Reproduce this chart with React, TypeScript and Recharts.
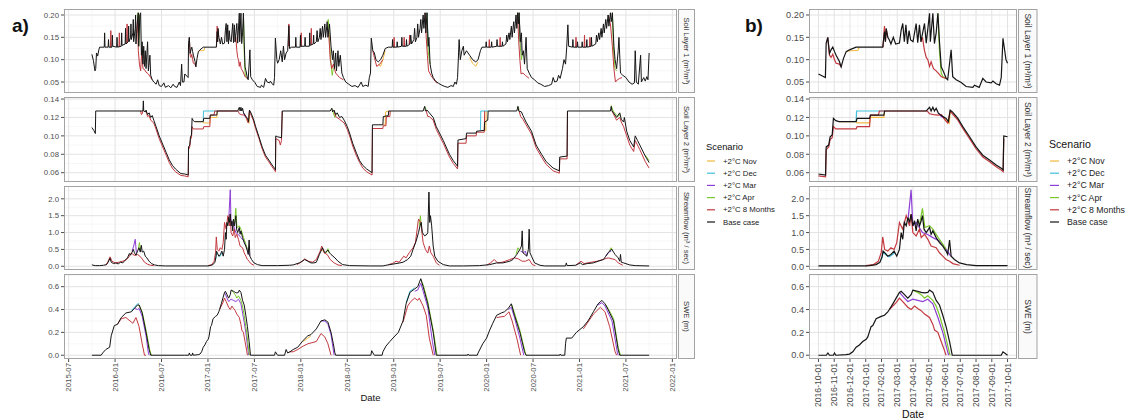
import { LineChart, Line, XAxis, YAxis, CartesianGrid } from "recharts";

// time axis: months since 2015-10-01 (start of water year 2016)
type Pt = [number, number] | null;

const SCENARIOS = ["+2°C Nov", "+2°C Dec", "+2°C Mar", "+2°C Apr", "+2°C 8 Months", "Base case"];
const COLORS = ["#F4B942", "#41C0DD", "#8F3FD6", "#7BC72D", "#C3393F", "#151515"];

const A_TICKS = [-3, 3, 9, 15, 21, 27, 33, 39, 45, 51, 57, 63, 69, 75];
const A_LABELS = ["2015-07", "2016-01", "2016-07", "2017-01", "2017-07", "2018-01", "2018-07",
  "2019-01", "2019-07", "2020-01", "2020-07", "2021-01", "2021-07", "2022-01"];
const A_MINOR = [0, 6, 12, 18, 24, 30, 36, 42, 48, 54, 60, 66, 72];
const B_TICKS = [12, 13, 14, 15, 16, 17, 18, 19, 20, 21, 22, 23, 24];
const B_LABELS = ["2016-10-01", "2016-11-01", "2016-12-01", "2017-01-01", "2017-02-01", "2017-03-01",
  "2017-04-01", "2017-05-01", "2017-06-01", "2017-07-01", "2017-08-01", "2017-09-01", "2017-10-01"];
const B_MINOR = [12.5, 13.5, 14.5, 15.5, 16.5, 17.5, 18.5, 19.5, 20.5, 21.5, 22.5, 23.5];

// ---------- Soil layer 1 ----------
const soil1Base: Pt[] = [
  [0, 0.112], [0.2, 0.098], [0.4, 0.075], [0.5, 0.08], [0.6, 0.115], [0.75, 0.108], [0.9, 0.122], [1.0, 0.128],
  [1.6, 0.128], [1.65, 0.16], [1.7, 0.128], [2.1, 0.128], [2.15, 0.145], [2.2, 0.128], [2.6, 0.128], [2.65, 0.155], [2.7, 0.13],
  [3.2, 0.128], [3.25, 0.15], [3.3, 0.128], [3.8, 0.13], [3.85, 0.16], [3.9, 0.132], [4.3, 0.135], [4.35, 0.17], [4.4, 0.135],
  [4.7, 0.14], [4.75, 0.175], [4.8, 0.14], [5.0, 0.15], [5.05, 0.18], [5.1, 0.145], [5.3, 0.16], [5.35, 0.19], [5.4, 0.14],
  [5.6, 0.17], [5.65, 0.2], [5.7, 0.135], [5.9, 0.19], [6.0, 0.205], [6.05, 0.13], [6.2, 0.2], [6.3, 0.205], [6.4, 0.11],
  [6.5, 0.14], [6.6, 0.09], [6.7, 0.13], [6.8, 0.085], [6.9, 0.12], [7.0, 0.08], [7.2, 0.14], [7.3, 0.075], [7.5, 0.11],
  [7.6, 0.065], [7.8, 0.055], [8.0, 0.05], [8.3, 0.045], [8.5, 0.055], [8.7, 0.042], [9.0, 0.04], [9.3, 0.048], [9.5, 0.038],
  [9.9, 0.042], [10.2, 0.037], [10.5, 0.045], [10.7, 0.04], [11.0, 0.038], [11.3, 0.05], [11.45, 0.042], [11.6, 0.09],
  [11.7, 0.05], [11.9, 0.05],
  [12.0, 0.068], [12.28, 0.063], [12.44, 0.06], [12.49, 0.137], [12.59, 0.15], [12.7, 0.114], [12.8, 0.122], [12.91, 0.128],
  [13.02, 0.118], [13.12, 0.11], [13.33, 0.096], [13.44, 0.084], [13.59, 0.103], [13.76, 0.118], [13.97, 0.122], [14.39, 0.128],
  [16.08, 0.128], [16.19, 0.163], [16.25, 0.14], [16.3, 0.17], [16.4, 0.15], [16.5, 0.144], [16.6, 0.135], [16.75, 0.15],
  [16.9, 0.135], [17.14, 0.137], [17.25, 0.166], [17.35, 0.181], [17.45, 0.14], [17.55, 0.178], [17.65, 0.135], [17.75, 0.165],
  [17.85, 0.144], [18.0, 0.14], [18.2, 0.181], [18.3, 0.138], [18.41, 0.178], [18.5, 0.14], [18.73, 0.181], [18.84, 0.137],
  [19.05, 0.204], [19.1, 0.14], [19.26, 0.204], [19.36, 0.136], [19.47, 0.16], [19.58, 0.204], [19.68, 0.14], [19.79, 0.084],
  [19.9, 0.076], [20.11, 0.058], [20.2, 0.055], [20.42, 0.122], [20.52, 0.062], [20.74, 0.055], [21.06, 0.049], [21.37, 0.04],
  [21.8, 0.038], [21.9, 0.043], [22.2, 0.038], [22.43, 0.058], [22.64, 0.05], [22.96, 0.048], [23.07, 0.052], [23.28, 0.046],
  [23.49, 0.043], [23.6, 0.06], [23.71, 0.148], [23.9, 0.1], [24.0, 0.092],
  [24.2, 0.1], [24.4, 0.12], [24.6, 0.095], [24.75, 0.13], [24.9, 0.1], [25.1, 0.115], [25.3, 0.12], [25.45, 0.176], [25.55, 0.125],
  [25.8, 0.128], [26.3, 0.128], [26.35, 0.15], [26.4, 0.128], [26.9, 0.128], [26.95, 0.155], [27.0, 0.13], [27.5, 0.13],
  [27.55, 0.15], [27.6, 0.13], [28.1, 0.13], [28.15, 0.16], [28.2, 0.132], [28.6, 0.135], [28.65, 0.155], [28.7, 0.135],
  [29.0, 0.14], [29.1, 0.165], [29.2, 0.14], [29.4, 0.15], [29.5, 0.17], [29.6, 0.145], [29.8, 0.175], [29.9, 0.15],
  [30.1, 0.18], [30.2, 0.15], [30.4, 0.185], [30.5, 0.15], [30.7, 0.18], [30.9, 0.13], [31.1, 0.1], [31.2, 0.12],
  [31.35, 0.08], [31.5, 0.115], [31.6, 0.075], [31.8, 0.12], [31.9, 0.085], [32.1, 0.11], [32.3, 0.07], [32.5, 0.06],
  [32.8, 0.05], [33.2, 0.045], [33.6, 0.04], [34.0, 0.042], [34.4, 0.038], [34.8, 0.05], [35.0, 0.04], [35.4, 0.043],
  [35.7, 0.04], [35.85, 0.06],
  [36.0, 0.07], [36.1, 0.148], [36.3, 0.12], [36.5, 0.115], [36.7, 0.1], [37.0, 0.095], [37.3, 0.1], [37.6, 0.11], [37.9, 0.125],
  [38.3, 0.128], [38.8, 0.128], [38.85, 0.145], [38.9, 0.128], [39.4, 0.128], [39.45, 0.14], [39.5, 0.128], [40.0, 0.13],
  [40.05, 0.15], [40.1, 0.13], [40.6, 0.13], [40.65, 0.145], [40.7, 0.13], [41.1, 0.135], [41.2, 0.155], [41.3, 0.135],
  [41.6, 0.145], [41.7, 0.17], [41.8, 0.14], [42.0, 0.15], [42.1, 0.18], [42.2, 0.15], [42.4, 0.17], [42.5, 0.19], [42.6, 0.16],
  [42.8, 0.2], [42.9, 0.17], [43.05, 0.205], [43.15, 0.16], [43.3, 0.205], [43.45, 0.13], [43.55, 0.15], [43.7, 0.09],
  [43.9, 0.07], [44.1, 0.06], [44.4, 0.052], [44.8, 0.047], [45.2, 0.043], [45.6, 0.04], [46.0, 0.038], [46.4, 0.042],
  [46.7, 0.04], [46.9, 0.05], [47.1, 0.045], [47.25, 0.06], [47.45, 0.145], [47.6, 0.1], [47.8, 0.12], [48.0, 0.13],
  [48.1, 0.11], [48.4, 0.12], [48.8, 0.11], [49.2, 0.1], [49.6, 0.095], [49.9, 0.1], [50.2, 0.12], [50.4, 0.128],
  [50.9, 0.128], [50.95, 0.14], [51.0, 0.128], [51.6, 0.128], [51.65, 0.14], [51.7, 0.128], [52.3, 0.13], [52.35, 0.145],
  [52.4, 0.13], [53.0, 0.13], [53.05, 0.14], [53.1, 0.13], [53.5, 0.135], [53.6, 0.155], [53.7, 0.14], [53.9, 0.16],
  [54.0, 0.145], [54.2, 0.175], [54.3, 0.15], [54.5, 0.185], [54.6, 0.16], [54.8, 0.2], [54.9, 0.17], [55.0, 0.205],
  [55.1, 0.18], [55.2, 0.205], [55.35, 0.14], [55.5, 0.16], [55.6, 0.11], [55.75, 0.12], [55.9, 0.09], [56.1, 0.15],
  [56.25, 0.08], [56.5, 0.07], [56.8, 0.06], [57.2, 0.055], [57.6, 0.048], [58.0, 0.045], [58.5, 0.04], [59.0, 0.042],
  [59.4, 0.045], [59.6, 0.06], [59.8, 0.05], [60.1, 0.052], [60.3, 0.065], [60.5, 0.058], [60.8, 0.08], [61.0, 0.1],
  [61.2, 0.09], [61.35, 0.128], [61.5, 0.178], [61.6, 0.13],
  [62.1, 0.128], [62.15, 0.145], [62.2, 0.128], [62.7, 0.128], [62.75, 0.14], [62.8, 0.128], [63.3, 0.128], [63.35, 0.14],
  [63.4, 0.128], [63.9, 0.128], [63.95, 0.145], [64.0, 0.128], [64.5, 0.13], [64.55, 0.15], [64.6, 0.13], [65.1, 0.135],
  [65.2, 0.155], [65.3, 0.14], [65.5, 0.16], [65.6, 0.145], [65.8, 0.17], [65.9, 0.15], [66.1, 0.18], [66.2, 0.16],
  [66.4, 0.19], [66.5, 0.17], [66.7, 0.2], [66.8, 0.175], [67.0, 0.205], [67.1, 0.185], [67.25, 0.205], [67.45, 0.13],
  [67.6, 0.1], [67.8, 0.08], [68.0, 0.12], [68.1, 0.15], [68.3, 0.07], [68.6, 0.065], [69.0, 0.06], [69.4, 0.05],
  [69.8, 0.045], [70.1, 0.048], [70.2, 0.12], [70.35, 0.05], [70.6, 0.045], [70.9, 0.11], [71.0, 0.05], [71.3, 0.06],
  [71.5, 0.052], [71.7, 0.062], [71.85, 0.055], [72.0, 0.115],
];
const soil1Eight: Pt[] = [
  [2.4, 0.128], [2.45, 0.165], [2.5, 0.128], null,
  [3.5, 0.128], [3.55, 0.16], [3.6, 0.13], null,
  [4.5, 0.137], [4.55, 0.18], [4.6, 0.137], null,
  [5.8, 0.16], [5.9, 0.19], [6.0, 0.12], [6.15, 0.09], [6.3, 0.075], [6.45, 0.12], [6.6, 0.08], [6.8, 0.078], [7.0, 0.072],
  [7.3, 0.068], [7.6, 0.06], [7.8, 0.055], null,
  [12.59, 0.15], [12.7, 0.11], [12.8, 0.105], [12.91, 0.112], [13.02, 0.1], [13.12, 0.092], [13.33, 0.09], [13.44, 0.084], null,
  [16.1, 0.128], [16.19, 0.175], [16.25, 0.14], [16.3, 0.168], [16.4, 0.15], null,
  [18.5, 0.14], [18.6, 0.15], [18.73, 0.12], [18.84, 0.105], [18.94, 0.1], [19.05, 0.085], [19.15, 0.095], [19.3, 0.08],
  [19.47, 0.075], [19.6, 0.07], [19.79, 0.062], [19.9, 0.06], [20.11, 0.058], null,
  [25.4, 0.13], [25.45, 0.18], [25.55, 0.125], null,
  [27.0, 0.13], [27.05, 0.16], [27.1, 0.13], null,
  [28.3, 0.133], [28.35, 0.17], [28.4, 0.133], null,
  [30.4, 0.17], [30.6, 0.16], [30.8, 0.1], [31.0, 0.08], [31.2, 0.09], [31.5, 0.07], [32.0, 0.06], [32.5, 0.055], null,
  [36.3, 0.12], [36.5, 0.105], [36.8, 0.085], [37.2, 0.09], [37.6, 0.1], null,
  [39.0, 0.128], [39.05, 0.15], [39.1, 0.128], null,
  [40.3, 0.13], [40.35, 0.15], [40.4, 0.13], null,
  [41.0, 0.135], [41.05, 0.155], [41.1, 0.135], null,
  [43.05, 0.205], [43.2, 0.15], [43.35, 0.11], [43.5, 0.075], [43.8, 0.065], [44.2, 0.055], [44.6, 0.047], null,
  [51.3, 0.128], [51.35, 0.145], [51.4, 0.128], null,
  [52.7, 0.13], [52.75, 0.15], [52.8, 0.13], null,
  [55.0, 0.205], [55.15, 0.14], [55.3, 0.1], [55.45, 0.068], [55.7, 0.07], [56.0, 0.065], [56.5, 0.058], null,
  [62.5, 0.128], [62.55, 0.15], [62.6, 0.128], null,
  [63.6, 0.128], [63.65, 0.155], [63.7, 0.128], null,
  [64.3, 0.13], [64.35, 0.15], [64.4, 0.13], null,
  [66.7, 0.2], [67.0, 0.18], [67.25, 0.13], [67.45, 0.08], [67.65, 0.05], [67.9, 0.055], [68.2, 0.058], [68.5, 0.06],
];
const soil1Nov: Pt[] = [
  [13.76, 0.118], [13.97, 0.12], [14.2, 0.12], [14.5, 0.121], [14.6, 0.128], null,
  [37.0, 0.09], [37.3, 0.085], [37.6, 0.1], [37.9, 0.12], null,
  [48.8, 0.105], [49.2, 0.092], [49.6, 0.085], [49.9, 0.095],
];
const soil1Dec: Pt[] = [[43.3, 0.205], [43.45, 0.14], [43.6, 0.12]];
const soil1Mar: Pt[] = [[55.2, 0.205], [55.3, 0.16], [55.45, 0.12]];
const soil1Apr: Pt[] = [
  [5.9, 0.19], [5.95, 0.205], [6.05, 0.13], [6.2, 0.2], null,
  [19.58, 0.204], [19.68, 0.12], [19.79, 0.07], [19.9, 0.062], [20.0, 0.06], [20.11, 0.058], null,
  [30.4, 0.185], [30.55, 0.19], [30.7, 0.14], [30.9, 0.09], [31.05, 0.065], [31.2, 0.08], [31.35, 0.08], null,
  [43.3, 0.205], [43.45, 0.12], [43.6, 0.1], [43.7, 0.09], null,
  [55.2, 0.205], [55.35, 0.13], [55.5, 0.1], [55.6, 0.11], null,
  [67.25, 0.205], [67.4, 0.12], [67.6, 0.08], [67.8, 0.075],
];

// ---------- Soil layer 2 ----------
const soil2Base: Pt[] = [
  [0, 0.109], [0.25, 0.106], [0.45, 0.1025], [0.5, 0.127], [6.6, 0.127], [6.65, 0.138], [6.7, 0.127], [6.9, 0.126],
  [7.0, 0.128], [7.2, 0.123], [7.4, 0.125], [7.6, 0.12], [7.8, 0.122], [8.0, 0.117], [8.3, 0.11], [8.7, 0.1], [9.2, 0.09],
  [9.6, 0.082], [10.0, 0.074], [10.4, 0.068], [10.8, 0.064], [11.5, 0.059],
  [12.0, 0.0586], [12.45, 0.0575], [12.49, 0.088], [12.65, 0.09], [12.74, 0.099], [12.87, 0.101], [12.95, 0.119],
  [13.1, 0.1165], [13.3, 0.1154], [14.39, 0.1154], [14.45, 0.119], [15.24, 0.119], [15.3, 0.1226], [16.15, 0.1226],
  [16.2, 0.127], [18.84, 0.127], [19.05, 0.131], [19.15, 0.127], [19.26, 0.131], [19.36, 0.127], [19.47, 0.13], [19.6, 0.125],
  [19.8, 0.122], [20.1, 0.119], [20.25, 0.1155], [20.36, 0.128], [20.5, 0.126], [20.85, 0.119], [21.16, 0.11], [21.59, 0.099],
  [22.0, 0.088], [22.43, 0.079], [22.86, 0.0738], [23.28, 0.0684], [23.6, 0.0648], [23.72, 0.063], [23.76, 0.0999], [24.0, 0.099],
  [24.5, 0.098], [24.6, 0.127], [30.8, 0.127], [31.0, 0.13], [31.1, 0.126], [31.3, 0.128], [31.5, 0.123], [31.7, 0.125],
  [32.0, 0.12], [32.3, 0.121], [32.6, 0.117], [33.0, 0.11], [33.3, 0.103], [33.7, 0.092], [34.2, 0.081], [34.6, 0.073],
  [35.0, 0.068], [35.5, 0.064], [36.2, 0.06], [36.25, 0.112], [37.6, 0.112], [37.65, 0.121], [38.3, 0.122], [38.35, 0.127],
  [42.8, 0.127], [43.0, 0.132], [43.1, 0.127], [43.3, 0.128], [43.6, 0.125], [44.1, 0.12], [44.5, 0.11], [45.4, 0.095],
  [46.2, 0.08], [46.7, 0.073], [47.25, 0.067], [47.3, 0.0955], [48.35, 0.097], [48.4, 0.103], [49.65, 0.103], [49.7, 0.105],
  [50.7, 0.106], [50.75, 0.115], [51.15, 0.117], [51.2, 0.127], [54.9, 0.127], [55.05, 0.132], [55.15, 0.127], [55.5, 0.126],
  [55.7, 0.122], [56.1, 0.115], [56.8, 0.105], [57.4, 0.09], [58.1, 0.08], [58.7, 0.072], [59.6, 0.065], [60.4, 0.062],
  [60.45, 0.077], [61.4, 0.078], [61.45, 0.127], [67.0, 0.127], [67.1, 0.132], [67.2, 0.127], [67.4, 0.125], [67.8, 0.12],
  [68.2, 0.125], [68.4, 0.118], [68.7, 0.115], [68.8, 0.12], [69.1, 0.105], [69.5, 0.095], [70.0, 0.088], [70.2, 0.1],
  [70.5, 0.095], [70.8, 0.09], [71.5, 0.078], [72.0, 0.071],
];
const soil2Eight: Pt[] = [
  [6.3, 0.127], [6.4, 0.123], [6.5, 0.124], [6.6, 0.127], null,
  [7.0, 0.127], [7.2, 0.121], [7.4, 0.122], [7.6, 0.117], [8.0, 0.114], [8.3, 0.107], [8.7, 0.097], [9.2, 0.087], [9.6, 0.079],
  [10.0, 0.071], [10.4, 0.065], [10.8, 0.061], [11.5, 0.057], [12.0, 0.0565], [12.45, 0.0555], [12.49, 0.085], [12.65, 0.088],
  [12.74, 0.096], [12.87, 0.098], [12.95, 0.11], [13.1, 0.1075], [14.39, 0.1075], [14.45, 0.11], [15.24, 0.11], [15.3, 0.1226],
  [15.8, 0.1226], [15.87, 0.127], [18.9, 0.127], [19.05, 0.124], [19.3, 0.123], [19.6, 0.1226], [19.8, 0.123], [20.0, 0.118],
  [20.2, 0.114], [20.36, 0.127], [20.5, 0.124], [20.85, 0.117], [21.16, 0.108], [21.59, 0.097], [22.0, 0.086], [22.43, 0.077],
  [22.86, 0.0718], [23.28, 0.0664], [23.6, 0.0628], [23.72, 0.061], [23.76, 0.097], [24.2, 0.095], [24.35, 0.09], [24.5, 0.095],
  [24.6, 0.127], null,
  [31.3, 0.127], [31.5, 0.121], [32.0, 0.118], [32.6, 0.114], [33.0, 0.107], [33.3, 0.1], [33.7, 0.089], [34.2, 0.078],
  [34.6, 0.071], [35.0, 0.065], [35.5, 0.061], [36.2, 0.0575], [36.25, 0.108], [37.6, 0.108], [37.65, 0.111], [38.0, 0.111],
  [38.05, 0.121], [38.5, 0.121], [38.55, 0.127], null,
  [43.2, 0.127], [43.4, 0.121], [43.6, 0.121], [44.1, 0.117], [44.5, 0.107], [45.4, 0.092], [46.2, 0.077], [46.7, 0.07],
  [47.25, 0.064], [47.3, 0.092], [48.35, 0.092], [48.4, 0.1], [49.65, 0.1], [49.7, 0.104], [50.7, 0.104], [50.75, 0.127], null,
  [55.2, 0.127], [55.4, 0.121], [55.7, 0.118], [56.1, 0.112], [56.8, 0.102], [57.4, 0.087], [58.1, 0.077], [58.7, 0.069],
  [59.6, 0.062], [60.4, 0.0595], [60.45, 0.075], [61.4, 0.075], [61.45, 0.127], null,
  [67.2, 0.127], [67.5, 0.122], [67.8, 0.117], [68.2, 0.12], [68.4, 0.115], [68.7, 0.11], [69.1, 0.1], [69.5, 0.09],
  [70.0, 0.083], [70.2, 0.095], [70.5, 0.09], [70.8, 0.085], [71.5, 0.072], [72.0, 0.065],
];
const soil2Nov: Pt[] = [
  [13.3, 0.1154], [14.39, 0.1154], [14.45, 0.114], [15.24, 0.114], [15.3, 0.12], [16.15, 0.12], [16.2, 0.127], null,
  [20.0, 0.119], [20.1, 0.116], [20.3, 0.1136], [20.36, 0.127], null,
  [37.6, 0.112], [37.9, 0.112], [37.95, 0.126], [38.35, 0.127], null,
  [50.7, 0.106], [50.9, 0.106], [50.95, 0.127],
];
const soil2Dec: Pt[] = [
  [14.39, 0.1154], [14.42, 0.127], [16.2, 0.127], null,
  [50.2, 0.106], [50.25, 0.127], [51.2, 0.127],
];
const soil2Mar: Pt[] = [[19.6, 0.125], [19.8, 0.121], [20.0, 0.119]];
const soil2Apr: Pt[] = [
  [31.0, 0.13], [31.2, 0.125], [31.4, 0.12], [31.6, 0.124], null,
  [43.0, 0.132], [43.2, 0.128], null,
  [55.05, 0.132], [55.2, 0.128], null,
  [67.1, 0.133], [67.3, 0.128], [67.6, 0.124], [68.0, 0.121], [68.3, 0.124], null,
  [71.5, 0.079], [72.0, 0.073],
];

// ---------- Streamflow ----------
const flowBase: Pt[] = [
  [0, 0.05], [0.15, 0.03], [0.5, 0.02], [1.0, 0.02], [1.5, 0.03], [1.9, 0.05], [2.1, 0.12], [2.35, 0.24], [2.5, 0.12],
  [2.8, 0.08], [3.1, 0.1], [3.4, 0.07], [3.7, 0.12], [4.0, 0.1], [4.3, 0.18], [4.6, 0.25], [4.85, 0.38], [5.0, 0.33],
  [5.2, 0.42], [5.35, 0.5], [5.5, 0.4], [5.7, 0.33], [5.9, 0.45], [6.1, 0.55], [6.25, 0.42], [6.4, 0.62], [6.5, 0.42],
  [6.7, 0.45], [6.9, 0.3], [7.1, 0.25], [7.4, 0.15], [7.7, 0.08], [8.1, 0.04], [8.6, 0.02], [9.5, 0.01], [12.0, 0.01],
  [15.0, 0.01], [15.24, 0.02], [15.66, 0.05], [15.9, 0.12], [16.05, 0.3], [16.1, 0.45], [16.25, 0.38], [16.4, 0.3],
  [16.6, 0.35], [16.8, 0.45], [16.97, 0.3], [17.14, 0.5], [17.25, 1.0], [17.35, 0.8], [17.45, 1.3], [17.57, 1.2],
  [17.68, 1.45], [17.78, 1.3], [17.88, 1.55], [17.99, 1.2], [18.1, 1.35], [18.2, 1.05], [18.3, 1.4], [18.41, 1.2],
  [18.52, 1.35], [18.6, 1.5], [18.7, 1.1], [18.84, 1.0], [19.05, 1.15], [19.15, 0.95], [19.26, 1.05], [19.47, 0.85],
  [19.68, 0.7], [19.89, 0.6], [20.1, 0.45], [20.2, 0.35], [20.32, 0.78], [20.42, 0.3], [20.63, 0.2], [20.95, 0.1],
  [21.4, 0.05], [22.0, 0.02], [24.0, 0.02],
  [25.5, 0.03], [26.0, 0.04], [26.8, 0.1], [27.2, 0.15], [27.5, 0.2], [27.9, 0.15], [28.3, 0.1], [28.7, 0.1], [29.0, 0.12],
  [29.4, 0.35], [29.8, 0.55], [30.1, 0.4], [30.5, 0.48], [30.7, 0.4], [30.9, 0.35], [31.4, 0.25], [31.8, 0.15], [32.4, 0.05],
  [33.3, 0.02], [36.0, 0.01],
  [37.6, 0.01], [38.0, 0.03], [38.5, 0.05], [39.3, 0.08], [39.8, 0.1], [40.2, 0.12], [40.8, 0.2], [41.2, 0.3], [41.5, 0.5],
  [41.9, 0.75], [42.2, 1.0], [42.4, 1.2], [42.55, 1.3], [42.7, 1.0], [43.0, 0.9], [43.3, 0.95], [43.4, 1.0], [43.55, 2.2],
  [43.65, 1.3], [43.75, 1.5], [43.9, 1.2], [44.1, 0.6], [44.3, 0.3], [44.7, 0.15], [45.4, 0.05], [46.2, 0.01], [48.0, 0.01],
  [50.1, 0.02], [51.4, 0.05], [52.3, 0.1], [53.1, 0.1], [54.0, 0.15], [54.4, 0.2], [54.9, 0.35], [55.3, 0.5], [55.5, 0.6],
  [55.6, 1.05], [55.7, 0.4], [56.2, 0.3], [56.4, 0.5], [56.5, 1.1], [56.6, 0.4], [56.8, 0.3], [57.2, 0.1], [57.9, 0.03],
  [58.5, 0.01], [61.2, 0.01], [61.3, 0.1], [61.4, 0.02],
  [62.5, 0.03], [63.1, 0.1], [63.4, 0.05], [64.0, 0.08], [64.8, 0.1], [65.4, 0.15], [66.1, 0.2], [66.4, 0.3], [66.7, 0.4],
  [67.0, 0.48], [67.2, 0.5], [67.4, 0.42], [67.6, 0.35], [68.0, 0.25], [68.2, 0.15], [68.3, 0.35], [68.4, 0.12], [68.7, 0.1],
  [69.5, 0.04], [70.2, 0.02], [72.0, 0.01],
];
const flowEight: Pt[] = [
  [1.8, 0.03], [2.1, 0.15], [2.35, 0.28], [2.6, 0.15], [3.0, 0.1], [3.5, 0.12], [4.0, 0.15], [4.5, 0.2], [4.8, 0.28],
  [5.1, 0.4], [5.3, 0.35], [5.6, 0.32], [5.9, 0.35], [6.2, 0.3], [6.5, 0.22], [6.8, 0.12], [7.2, 0.06], [7.6, 0.03], [8.0, 0.02], null,
  [15.0, 0.02], [15.5, 0.05], [15.8, 0.15], [15.98, 0.4], [16.08, 0.87], [16.2, 0.5], [16.4, 0.45], [16.6, 0.55], [16.8, 0.5],
  [16.97, 0.7], [17.14, 1.3], [17.35, 1.1], [17.57, 1.5], [17.78, 1.2], [17.88, 1.55], [17.99, 1.0], [18.2, 0.9], [18.41, 1.1],
  [18.52, 0.85], [18.73, 0.95], [18.94, 0.8], [19.15, 0.6], [19.47, 0.55], [19.68, 0.4], [19.89, 0.3], [20.1, 0.2],
  [20.32, 0.15], [20.53, 0.08], [20.95, 0.03], null,
  [26.5, 0.05], [27.0, 0.12], [27.5, 0.22], [28.0, 0.15], [28.5, 0.12], [29.0, 0.2], [29.5, 0.45], [29.7, 0.6], [30.0, 0.4],
  [30.4, 0.35], [30.8, 0.2], [31.3, 0.1], [31.8, 0.04], [32.3, 0.02], null,
  [38.3, 0.05], [38.8, 0.08], [39.3, 0.15], [39.7, 0.12], [40.3, 0.3], [40.6, 0.25], [41.0, 0.4], [41.5, 0.55], [41.8, 0.7],
  [42.2, 1.4], [42.5, 1.3], [42.8, 0.7], [43.1, 0.5], [43.4, 0.39], [43.6, 0.6], [43.8, 0.4], [44.1, 0.3], [44.5, 0.1],
  [44.9, 0.03], null,
  [51.0, 0.03], [51.5, 0.1], [52.0, 0.2], [52.4, 0.1], [53.0, 0.12], [53.4, 0.15], [54.0, 0.2], [54.6, 0.25], [55.1, 0.22],
  [55.6, 0.15], [56.0, 0.15], [56.5, 0.2], [56.9, 0.05], [57.3, 0.02], null,
  [62.5, 0.03], [63.2, 0.15], [63.6, 0.08], [64.5, 0.12], [65.3, 0.15], [66.0, 0.2], [66.7, 0.25], [67.2, 0.22], [67.6, 0.2],
  [68.0, 0.1], [68.6, 0.03],
];
const flowNov: Pt[] = [[29.6, 0.45], [29.8, 0.5], [30.0, 0.42]];
const flowDec: Pt[] = [[16.0, 0.2], [16.1, 0.42], [16.25, 0.35], [16.5, 0.28], [16.7, 0.35], [16.85, 0.4]];
const flowMar: Pt[] = [
  [5.2, 0.45], [5.4, 0.6], [5.6, 0.8], [5.75, 0.4], null,
  [17.7, 1.45], [17.88, 2.27], [17.99, 1.2], [18.2, 1.3], [18.6, 1.0], [18.9, 0.95], [19.26, 0.85], [19.68, 0.75],
  [20.1, 0.5], [20.4, 0.3], null,
  [55.4, 0.45], [55.8, 0.4], [56.0, 0.45], [56.2, 0.3], null,
  [66.4, 0.3], [66.8, 0.42], [67.1, 0.45],
];
const flowApr: Pt[] = [
  [6.0, 0.5], [6.15, 0.7], [6.3, 0.5], null,
  [18.4, 1.2], [18.6, 1.72], [18.75, 1.15], [19.05, 1.2], [19.26, 1.1], [19.6, 0.85], [19.9, 0.65], [20.1, 0.5], null,
  [30.3, 0.4], [30.5, 0.52], [30.7, 0.4], null,
  [42.3, 1.2], [42.45, 1.5], [42.6, 1.1], null,
  [54.8, 0.35], [55.05, 0.55], [55.3, 0.45], null,
  [66.9, 0.45], [67.1, 0.55], [67.3, 0.45],
];

// ---------- SWE ----------
const sweBase: Pt[] = [
  [0, 0], [1.2, 0], [1.4, 0.02], [1.8, 0.05], [2.3, 0.07], [2.5, 0.17], [2.9, 0.26], [3.3, 0.27], [3.8, 0.33], [4.4, 0.37],
  [5.1, 0.38], [5.5, 0.41], [5.9, 0.44], [6.1, 0.44], [6.5, 0.37], [7.0, 0.2], [7.4, 0.05], [7.6, 0], [12.0, 0],
  [12.5, 0], [12.6, 0.02], [12.7, 0], [12.95, 0], [13.02, 0.02], [13.1, 0], [13.75, 0.005], [13.97, 0.01], [14.18, 0.03],
  [14.39, 0.07], [14.6, 0.09], [14.81, 0.12], [15.03, 0.14], [15.13, 0.16], [15.34, 0.25], [15.45, 0.26], [15.66, 0.32],
  [15.98, 0.34], [16.19, 0.35], [16.4, 0.38], [16.5, 0.4], [16.72, 0.45], [16.93, 0.5], [17.14, 0.55], [17.25, 0.56],
  [17.46, 0.53], [17.67, 0.5], [17.88, 0.53], [17.99, 0.57], [18.3, 0.56], [18.52, 0.55], [18.73, 0.545], [18.94, 0.55],
  [19.05, 0.57], [19.26, 0.55], [19.47, 0.48], [19.68, 0.44], [19.89, 0.35], [20.1, 0.25], [20.32, 0.12], [20.49, 0],
  [23.6, 0], [23.71, 0.03], [23.9, 0.01], [24.0, 0],
  [24.9, 0], [25.1, 0.05], [25.3, 0.02], [25.6, 0.03], [26.0, 0.05], [26.6, 0.07], [27.3, 0.13], [27.9, 0.17], [28.3, 0.18],
  [29.0, 0.23], [29.6, 0.3], [30.1, 0.31], [30.5, 0.29], [30.9, 0.2], [31.2, 0.1], [31.4, 0.02], [31.5, 0], [36.05, 0],
  [36.15, 0.04], [36.4, 0.01], [36.5, 0], [37.5, 0], [37.6, 0.03], [38.0, 0.08], [38.5, 0.12], [38.9, 0.15], [39.6, 0.2],
  [40.2, 0.3], [40.6, 0.45], [41.1, 0.55], [41.7, 0.58], [42.1, 0.6], [42.5, 0.67], [42.8, 0.6], [43.4, 0.45], [44.1, 0.2],
  [44.5, 0], [48.55, 0], [48.6, 0.01], [48.7, 0], [49.8, 0], [49.9, 0.02], [50.5, 0.1], [51.0, 0.15], [51.4, 0.22],
  [51.8, 0.28], [52.3, 0.35], [52.9, 0.37], [53.3, 0.38], [53.8, 0.41], [54.2, 0.45], [54.6, 0.35], [55.3, 0.2],
  [55.9, 0.03], [56.1, 0], [60.45, 0], [60.5, 0.01], [60.6, 0], [61.1, 0], [61.2, 0.1], [61.3, 0.15], [62.0, 0.15],
  [62.6, 0.2], [63.5, 0.25], [64.1, 0.3], [64.8, 0.38], [65.4, 0.45], [65.9, 0.48], [66.3, 0.45], [66.7, 0.4], [67.4, 0.3],
  [68.0, 0.05], [68.2, 0], [72.0, 0],
];
const sweEight: Pt[] = [
  [3.3, 0.27], [3.8, 0.32], [4.4, 0.33], [5.1, 0.29], [5.3, 0.28], [5.7, 0.33], [6.1, 0.25], [6.5, 0.1], [6.8, 0], [7.0, 0], null,
  [16.5, 0.4], [16.93, 0.46], [17.14, 0.5], [17.35, 0.47], [17.67, 0.42], [17.88, 0.4], [18.1, 0.43], [18.3, 0.41],
  [18.52, 0.39], [18.73, 0.36], [19.05, 0.33], [19.26, 0.27], [19.37, 0.22], [19.58, 0.2], [19.79, 0.12], [20.0, 0.04],
  [20.1, 0], null,
  [25.5, 0.03], [26.0, 0.03], [26.6, 0.05], [27.3, 0.08], [27.9, 0.1], [29.0, 0.12], [29.6, 0.19], [30.1, 0.16], [30.5, 0.1],
  [30.9, 0], null,
  [40.2, 0.29], [40.8, 0.43], [41.2, 0.47], [41.7, 0.5], [42.1, 0.48], [42.3, 0.5], [42.8, 0.43], [43.2, 0.35], [43.6, 0.15],
  [44.1, 0], null,
  [52.3, 0.33], [53.3, 0.34], [53.9, 0.38], [54.3, 0.3], [54.9, 0.15], [55.4, 0], null,
  [63.5, 0.23], [64.8, 0.36], [65.7, 0.42], [66.3, 0.38], [66.9, 0.25], [67.6, 0.03], [67.8, 0],
];
const sweNov: Pt[] = [[27.3, 0.12], [27.9, 0.15], [28.3, 0.17]];
const sweDec: Pt[] = [[5.1, 0.39], [5.5, 0.42], [5.9, 0.45], [6.1, 0.45], null, [40.6, 0.46], [41.1, 0.56], [41.7, 0.59]];
const sweMar: Pt[] = [
  [5.5, 0.41], [5.9, 0.4], [6.1, 0.41], [6.5, 0.34], [7.0, 0.17], [7.3, 0.02], [7.4, 0], null,
  [17.14, 0.55], [17.46, 0.5], [17.67, 0.47], [17.99, 0.49], [18.3, 0.48], [18.62, 0.47], [18.94, 0.49], [19.26, 0.45],
  [19.58, 0.33], [19.89, 0.2], [20.2, 0.03], [20.27, 0], null,
  [29.6, 0.3], [30.1, 0.3], [30.5, 0.27], [30.9, 0.18], [31.3, 0], null,
  [41.7, 0.56], [42.1, 0.57], [42.5, 0.63], [42.8, 0.56], [43.4, 0.42], [44.0, 0.12], [44.3, 0], null,
  [53.8, 0.4], [54.2, 0.42], [54.6, 0.33], [55.3, 0.15], [55.8, 0], null,
  [65.4, 0.44], [65.9, 0.46], [66.3, 0.43], [67.2, 0.3], [67.9, 0.02], [68.0, 0],
];
const sweApr: Pt[] = [
  [6.1, 0.44], [6.5, 0.38], [7.0, 0.22], [7.5, 0.04], [7.7, 0], null,
  [17.99, 0.57], [18.3, 0.55], [18.52, 0.53], [18.73, 0.5], [18.94, 0.52], [19.26, 0.48], [19.47, 0.43], [19.68, 0.35],
  [19.89, 0.25], [20.0, 0.2], [20.3, 0.03], [20.36, 0], null,
  [42.5, 0.66], [42.8, 0.62], [43.4, 0.47], [44.1, 0.22], [44.6, 0], null,
  [54.2, 0.45], [54.6, 0.37], [55.3, 0.22], [56.0, 0.02], [56.1, 0], null,
  [66.3, 0.45], [66.7, 0.41], [67.4, 0.32], [68.0, 0.07], [68.3, 0],
];

const FACETS = [
  { strip: "Soil Layer 1 (m³/m³)", top: 9, h: 84, domain: [0.0254, 0.2134], major: [0.05, 0.1, 0.15, 0.2],
    minor: [0.075, 0.125, 0.175], digits: 2, series: [soil1Nov, soil1Dec, soil1Mar, soil1Apr, soil1Eight, soil1Base] },
  { strip: "Soil Layer 2 (m³/m³)", top: 97, h: 85, domain: [0.0499, 0.1422], major: [0.06, 0.08, 0.1, 0.12, 0.14],
    minor: [0.07, 0.09, 0.11, 0.13], digits: 2, series: [soil2Nov, soil2Dec, soil2Mar, soil2Apr, soil2Eight, soil2Base] },
  { strip: "Streamflow (m³ / sec)", top: 186, h: 84, domain: [-0.11, 2.38], major: [0, 0.5, 1, 1.5, 2],
    minor: [0.25, 0.75, 1.25, 1.75, 2.25], digits: 1, series: [flowNov, flowDec, flowMar, flowApr, flowEight, flowBase] },
  { strip: "SWE (m)", top: 274, h: 85, domain: [-0.033, 0.711], major: [0, 0.2, 0.4, 0.6],
    minor: [0.1, 0.3, 0.5, 0.7], digits: 1, series: [sweNov, sweDec, sweMar, sweApr, sweEight, sweBase] },
];

const PANELS = [
  { left: 64, w: 613, lo: 0, hi: 72, xDomain: [-3.6, 75.6], ticks: A_TICKS, labels: A_LABELS, minor: A_MINOR,
    fs: 7.8, xfs: 7.8, stripFs: 7.6, lw: 1, stripX: 678.5, stripW: 16, legendX: 707, tag: "a)", tagX: 12, titleY: 397,
    titleFs: 9.5, legFs: 7.8, legTitleFs: 9.4, legTitleY: 146 },
  { left: 809, w: 208, lo: 12, hi: 24, xDomain: [11.4, 24.6], ticks: B_TICKS, labels: B_LABELS, minor: B_MINOR,
    fs: 9.2, xfs: 8.6, stripFs: 8.5, lw: 1.2, stripX: 1018.5, stripW: 18.5, legendX: 1050, tag: "b)", tagX: 745, titleY: 414,
    titleFs: 10.5, legFs: 8.7, legTitleFs: 10.6, legTitleY: 144 },
];

function toRows(pts: Pt[], lo: number, hi: number) {
  const rows: { t: number; v: number | null }[] = [];
  let last = 0;
  for (const p of pts) {
    if (p === null) {
      if (last >= lo && last <= hi) rows.push({ t: last + 0.001, v: null });
      continue;
    }
    last = p[0];
    if (p[0] >= lo && p[0] <= hi) rows.push({ t: p[0], v: p[1] });
  }
  return rows;
}

const FONT = "'Liberation Sans', Arial, Helvetica, sans-serif";
const AXIS_W = 44;
const AXIS_H = 62;
const PAD = 7;

function Facet({ panel, facet, showX }: any) {
  const tickRender = (p: any) => {
    const i = panel.ticks.indexOf(p.payload.value);
    return (
      <text x={p.x} y={p.y} transform={`rotate(-90 ${p.x} ${p.y})`} textAnchor="end" dominantBaseline="central"
        fontSize={panel.xfs} fill="#4D4D4D" fontFamily={FONT}>
        {panel.labels[i]}
      </text>
    );
  };
  return (
    <div style={{ position: "absolute", left: panel.left - AXIS_W, top: facet.top - PAD }}>
      <LineChart width={panel.w + AXIS_W} height={facet.h + PAD + (showX ? AXIS_H : PAD)}
        margin={{ top: PAD, right: 0, bottom: showX ? 0 : PAD, left: 0 }}>
        <CartesianGrid stroke="#F2F2F2" strokeWidth={0.6} verticalValues={panel.minor} horizontalValues={facet.minor} />
        <CartesianGrid stroke="#E3E3E3" strokeWidth={1} verticalValues={panel.ticks} horizontalValues={facet.major} />
        <XAxis dataKey="t" type="number" domain={panel.xDomain} allowDataOverflow ticks={panel.ticks} interval={0}
          hide={!showX} height={AXIS_H} axisLine={false} tickLine={{ stroke: "#4D4D4D" }} tickSize={3} tickMargin={1}
          tick={tickRender} />
        <YAxis type="number" domain={facet.domain} allowDataOverflow ticks={facet.major} interval={0} width={AXIS_W}
          axisLine={false} tickLine={{ stroke: "#4D4D4D" }} tickSize={3} tickMargin={2}
          tick={{ fontSize: panel.fs, fill: "#4D4D4D", fontFamily: FONT }}
          tickFormatter={(v: number) => v.toFixed(facet.digits)} />
        {facet.series.map((s: Pt[], i: number) => (
          <Line key={SCENARIOS[i]} name={SCENARIOS[i]} data={toRows(s, panel.lo, panel.hi)} dataKey="v" type="linear"
            stroke={COLORS[i]} strokeWidth={panel.lw} dot={false} activeDot={false} connectNulls={false}
            isAnimationActive={false} />
        ))}
      </LineChart>
    </div>
  );
}

export default function App() {
  return (
    <div style={{ position: "absolute", left: 0, top: 0, width: 1127, height: 420, background: "#fff", fontFamily: FONT }}>
      {PANELS.map((p, pi) =>
        FACETS.map((f, fi) => <Facet key={`${pi}-${fi}`} panel={p} facet={f} showX={fi === FACETS.length - 1} />)
      )}
      <svg width={1127} height={420} style={{ position: "absolute", left: 0, top: 0, pointerEvents: "none" }}>
        {PANELS.map((p, pi) => (
          <g key={pi}>
            <text x={p.tagX} y={32} fontSize={19} fontWeight="bold" fill="#111" fontFamily={FONT}>{p.tag}</text>
            {FACETS.map((f, fi) => (
              <g key={fi}>
                <rect x={p.left + 0.5} y={f.top + 0.5} width={p.w - 1} height={f.h - 1} fill="none" stroke="#A3A3A3" strokeWidth={1} />
                <rect x={p.stripX} y={f.top + 0.5} width={p.stripW} height={f.h - 1} fill="#FAFAFA" stroke="#A3A3A3" strokeWidth={1} />
                <text x={p.stripX + p.stripW / 2} y={f.top + f.h / 2} transform={`rotate(90 ${p.stripX + p.stripW / 2} ${f.top + f.h / 2})`}
                  textAnchor="middle" dominantBaseline="central" fontSize={p.stripFs} fill="#333" fontFamily={FONT}>
                  {f.strip}
                </text>
              </g>
            ))}
            <text x={p.left + p.w / 2} y={p.titleY} textAnchor="middle" dominantBaseline="central" fontSize={p.titleFs}
              fill="#111" fontFamily={FONT}>Date</text>
            <text x={p.legendX - 1} y={p.legTitleY} dominantBaseline="central" fontSize={p.legTitleFs} fill="#111" fontFamily={FONT}>Scenario</text>
            {SCENARIOS.map((s, i) => (
              <g key={s}>
                <line x1={p.legendX} x2={p.legendX + (pi === 1 ? 9 : 8)} y1={161 + i * 12.2} y2={161 + i * 12.2} stroke={COLORS[i]} strokeWidth={1.2} />
                <text x={p.legendX + (pi === 1 ? 17 : 16)} y={161 + i * 12.2} dominantBaseline="central" fontSize={p.legFs} fill="#222" fontFamily={FONT}>{s}</text>
              </g>
            ))}
          </g>
        ))}
      </svg>
    </div>
  );
}
